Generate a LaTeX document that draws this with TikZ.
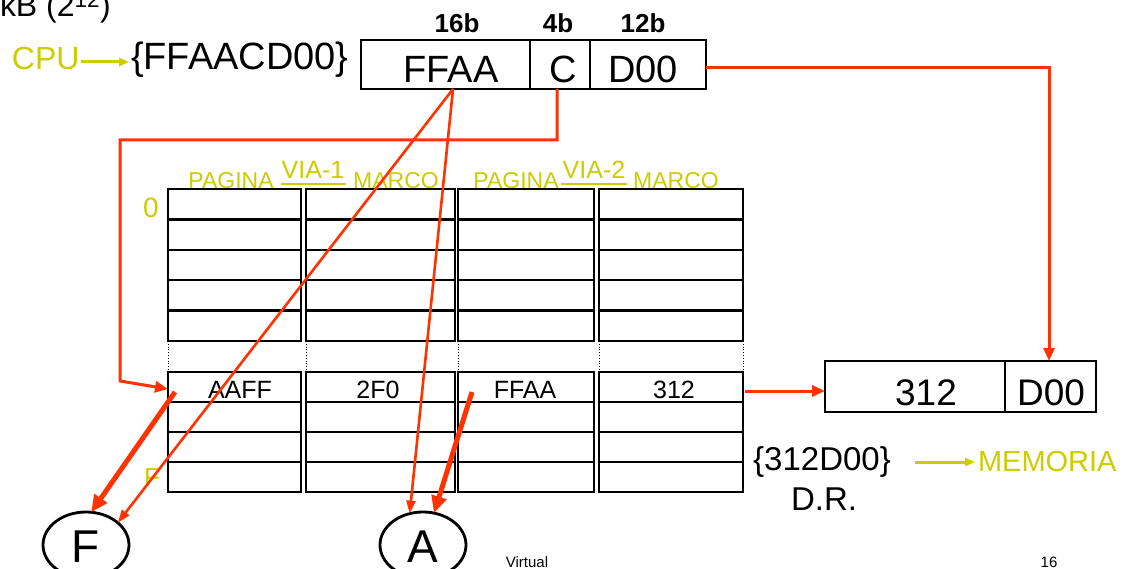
\documentclass[tikz,border=0pt]{standalone}
\usepackage{fontspec}
\setmainfont{Liberation Sans}
\usetikzlibrary{arrows.meta,shapes.geometric}
\definecolor{ylw}{RGB}{204,204,0}
\definecolor{rd}{RGB}{255,51,0}
\begin{document}
\begin{tikzpicture}[x=1pt,y=-1pt,
  every node/.style={inner sep=0pt,outer sep=0pt},
  txt/.style={anchor=base,font=\fontsize{#1}{#1}\selectfont},
  bits/.style={anchor=base,font=\fontsize{#1}{#1}\selectfont\bfseries},
  box/.style={draw,line width=2.6pt,anchor=north west},
  cell/.style={draw,line width=2.4pt,anchor=north west},
  redline/.style={draw=rd,line width=3pt,line join=miter},
  redarrow/.style={redline,-{Triangle[length=13pt,width=11pt]}},
  thinarrow/.style={draw=rd,line width=2.6pt,-{Triangle[length=13pt,width=9pt]}},
  thickarrow/.style={draw=rd,line width=5pt,-{Triangle[length=17pt,width=15pt]}},
  ylwarrow/.style={draw=ylw,line width=3pt,-{Triangle[length=10pt,width=8pt]}},
  oval/.style={draw,ellipse,line width=2.8pt,minimum width=86pt,minimum height=66pt}
]
\useasboundingbox (0,0) rectangle (1127,569);

% top-left cut text
\node[txt=32,anchor=base west] (kb) at (0,17) {kB (2\textsuperscript{12})};

% CPU address
\node[txt=32,anchor=base west,text=ylw] (cpu) at (12,70) {CPU};
\node[txt=38,anchor=base west] (va) at (131,70) {\{FFAACD00\}};
\draw[ylwarrow] ([xshift=1pt,yshift=8pt]cpu.base east) -- ([xshift=-2pt,yshift=8pt]va.base west);

% bit labels
\node[bits=26] (b16) at (457,33) {16b};
\node[bits=26] (b4) at (558,33) {4b};
\node[bits=26] (b12) at (643,33) {12b};

% virtual address box
\node[box,minimum width=169pt,minimum height=49pt] (bpage) at (361,40) {};
\node[box,minimum width=60pt,minimum height=49pt] (bvia) at (530,40) {};
\node[box,minimum width=116pt,minimum height=49pt] (boff) at (590,40) {};
\node[txt=38] (tffaa) at (451,83) {FFAA};
\node[txt=38] (tc) at (563,83) {C};
\node[txt=38] (td00) at (643,83) {D00};

% headers
\node[txt=23,text=ylw] (h1) at (231,189) {PAGINA};
\node[txt=25,text=ylw] (h2) at (313,179) {VIA-1};
\node[txt=23,text=ylw] (h3) at (396,189) {MARCO};
\node[txt=23,text=ylw] (h4) at (516,189) {PAGINA};
\node[txt=25,text=ylw] (h5) at (594,179) {VIA-2};
\node[txt=23,text=ylw] (h6) at (676,189) {MARCO};
\draw[ylw,line width=2pt] (281,184) -- (346,184);
\draw[ylw,line width=2pt] (561,184) -- (627,184);

% table
\foreach \c/\xl/\w in {1/168/133,2/306/149,3/458/136,4/599/144}{
  \foreach \r/\yt in {0/189,1/219.4,2/249.8,3/280.2,4/310.6}{
    \node[cell,minimum width=\w pt,minimum height=30.4pt] (u\c-\r) at (\xl,\yt) {};
  }
  \foreach \r/\yt in {0/372,1/402,2/432,3/462}{
    \node[cell,minimum width=\w pt,minimum height=30pt] (l\c-\r) at (\xl,\yt) {};
  }
}
\foreach \x in {168,306,458,599,743}{
  \draw[dotted,line width=0.8pt] (\x,341) -- (\x,372);
}
\node[txt=28,text=ylw] (zero) at (151,218) {0};
\node[txt=26,text=ylw] (fy) at (152,486) {F};
\node[txt=25] (c1) at (240,398) {AAFF};
\node[txt=25] (c2) at (378,398) {2F0};
\node[txt=25] (c3) at (525,398) {FFAA};
\node[txt=25] (c4) at (674,398) {312};

% physical address box
\node[box,minimum width=180pt,minimum height=51pt] (dpage) at (825,361) {};
\node[box,minimum width=91pt,minimum height=51pt] (doff) at (1005,361) {};
\node[txt=37] (t312) at (926,405) {312};
\node[txt=37] (tdd) at (1051,405) {D00};

\node[txt=33] (pa) at (822,470) {\{312D00\}};
\node[txt=33] (dr) at (824,510) {D.R.};
\node[txt=29,anchor=base west,text=ylw] (mem) at (978,471) {MEMORIA};
\coordinate (ya) at (915,462);
\draw[ylwarrow] (ya) -- ([xshift=-3pt,yshift=9pt]mem.base west);

% ovals
\node[oval] (of) at (86,545) {};
\node[oval] (oa) at (423,545) {};
\node[txt=46] (tf) at (86,562) {F};
\node[txt=46] (ta) at (423,562) {A};

% footer
\node[txt=15] (virt) at (527,567) {Virtual};
\node[txt=15] (num) at (1049,567) {16};

% red connectors
\coordinate (s1) at (453,89);
\coordinate (k1) at (1049,68);
\draw[redarrow] (boff.east |- k1) -- (k1) -- (doff.north -| k1);
\coordinate (k2) at (557,140);
\coordinate (k3) at (120,140);
\coordinate (k4) at (120,381);
\draw[redarrow] (bvia.south -| k2) -- (k2) -- (k3) -- (k4) -- ([yshift=-2pt]l1-0.west);
\draw[thinarrow] (s1) -- (of.35);
\draw[thinarrow] (s1) -- (oa.113);
\coordinate (s2) at (175,392);
\coordinate (s3) at (472,392);
\draw[thickarrow] (s2) -- (of.81);
\draw[thickarrow] (s3) -- (oa.71);
\coordinate (s4) at (745,391);
\draw[redarrow] (s4) -- (s4 -| dpage.west);
\end{tikzpicture}
\end{document}
